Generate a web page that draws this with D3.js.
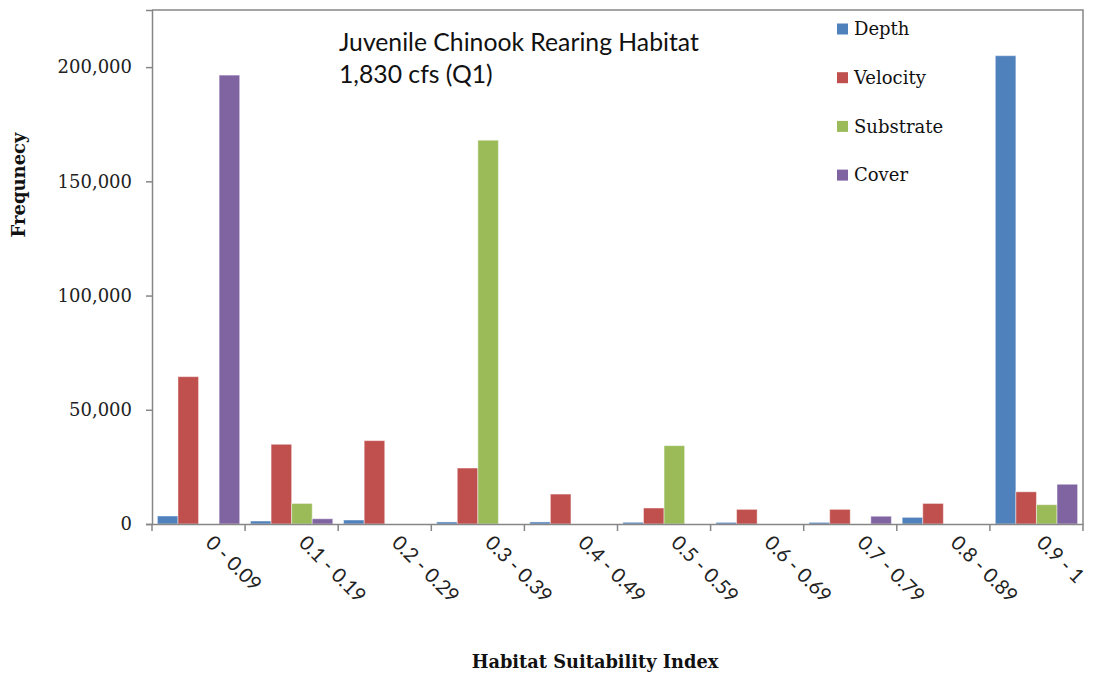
<!DOCTYPE html>
<html><head><meta charset="utf-8">
<script src="https://cdn.jsdelivr.net/npm/d3@7"></script>
<style>body{margin:0;background:#fff;}svg{display:block;}</style>
</head><body>
<svg id="chart" width="1093" height="675"></svg>
<script>
const categories = ["0 - 0.09","0.1 - 0.19","0.2 - 0.29","0.3 - 0.39","0.4 - 0.49","0.5 - 0.59","0.6 - 0.69","0.7 - 0.79","0.8 - 0.89","0.9 - 1"];
const seriesNames = ["Depth","Velocity","Substrate","Cover"];
const depth     = [3500, 1300, 1750, 900, 900, 750, 700, 700, 2900, 205000];
const velocity  = [64500, 34900, 36500, 24500, 13100, 7000, 6400, 6400, 9000, 14100];
const substrate = [0, 9000, 0, 168000, 0, 34300, 0, 0, 0, 8450];
const cover     = [196500, 2300, 0, 0, 0, 0, 0, 3400, 0, 17400];
const yTicks = [0, 50000, 100000, 150000, 200000];
const colors = ["#4F81BD","#C0504D","#9BBB59","#8064A2"];
const titleLines = ["Juvenile Chinook Rearing Habitat","1,830 cfs (Q1)"];

const seriesValues = [depth, velocity, substrate, cover];
const svg = d3.select("#chart");
const W = 1093;
const L = 152, R = 1083, T = 10, B = 524;
const axisColor = "#868686";

const x = d3.scaleBand().domain(categories).range([L, R]).padding(0);
const bw = x.bandwidth();
const gap = bw * 0.058;
const xs = d3.scaleBand().domain(seriesNames).range([gap, bw - gap]).padding(0);
const y = d3.scaleLinear().domain([0, 225000]).range([B, T]);

// bars
seriesNames.forEach((s, si) => {
  const data = categories.map((c, i) => ({c, v: seriesValues[si][i]})).filter(d => d.v > 0);
  svg.append("g").selectAll("rect").data(data).join("rect")
    .attr("x", d => x(d.c) + xs(s))
    .attr("y", d => y(d.v))
    .attr("width", xs.bandwidth())
    .attr("height", d => B - y(d.v))
    .attr("fill", colors[si])
    .attr("stroke", "rgba(255,255,255,0.45)")
    .attr("stroke-width", 1);
});

// plot frame (top & right)
svg.append("path").attr("d", `M${L},${T}H${R}V${B}`).attr("fill","none").attr("stroke", axisColor).attr("stroke-width", 1.5);

// y axis
const yAxis = d3.axisLeft(y).tickValues(yTicks).tickSize(6).tickFormat(d3.format(","));
const gy = svg.append("g").attr("transform", `translate(${L},0)`).call(yAxis);
gy.select(".domain").attr("stroke", axisColor).attr("stroke-width", 1.5);
gy.selectAll(".tick line").attr("stroke", axisColor).attr("stroke-width", 1.5);
gy.selectAll(".tick text").attr("font-family", "DejaVu Serif").attr("font-size", 18).attr("fill", "#222").attr("x", -20);

// x axis
const xAxis = d3.axisBottom(x).tickSize(0).tickFormat("");
const gx = svg.append("g").attr("transform", `translate(0,${B})`).call(xAxis);
gx.select(".domain").attr("stroke", axisColor).attr("stroke-width", 1.5);
const bounds = categories.map(c => x(c)).concat([R]);
svg.append("g").selectAll("line").data(bounds).join("line")
  .attr("x1", d => d).attr("x2", d => d).attr("y1", B).attr("y2", B + 7)
  .attr("stroke", axisColor).attr("stroke-width", 1.5);

// x tick labels rotated
const xl = svg.append("g").selectAll("text").data(categories).join("text")
  .attr("transform", d => `translate(${x(d) + bw/2 + 11},${B + 15}) rotate(45)`)
  .attr("font-family", "Lato").attr("font-size", 19).attr("fill", "#222")
  .attr("text-anchor", "start").attr("dy", "0.35em")
  .text(d => d);
{
  const ref = xl.filter((d,i) => i === 1).node().getComputedTextLength();
  xl.attr("font-size", 19 * 85 / ref);
  // keep every label inside the picture
  xl.each(function(d) {
    const r = this.getBoundingClientRect();
    if (r.right > W - 3) {
      const shift = r.right - (W - 3);
      d3.select(this).attr("transform", `translate(${x(d) + bw/2 + 11 - shift},${B + 15}) rotate(45)`);
    }
  });
}

// title
const tl = svg.append("g").selectAll("text").data(titleLines).join("text")
  .attr("x", 339).attr("y", (d, i) => 51 + i * 32)
  .attr("font-family", "Lato").attr("font-size", 20).attr("fill", "#111")
  .text(d => d);
{
  const ref = tl.filter((d,i) => i === 0).node().getComputedTextLength();
  tl.attr("font-size", 20 * 360 / ref);
}

// legend
const lg = svg.append("g").selectAll("g").data(seriesNames).join("g")
  .attr("transform", (d, i) => `translate(837,${29 + i * 48.7})`);
lg.append("rect").attr("x", 0).attr("y", -5.5).attr("width", 11).attr("height", 11)
  .attr("fill", (d, i) => colors[i]);
lg.append("text").attr("x", 17).attr("dy", "0.35em")
  .attr("font-family", "DejaVu Serif").attr("font-size", 18).attr("fill", "#111")
  .text(d => d);

// axis titles
const yt = svg.append("text").attr("transform", "translate(25,185) rotate(-90)")
  .attr("text-anchor", "middle").attr("font-family", "DejaVu Serif").attr("font-weight", "bold")
  .attr("font-size", 16).attr("fill", "#111").text("Frequnecy");
yt.attr("font-size", 16 * 105 / yt.node().getComputedTextLength());

const xt = svg.append("text").attr("x", 595).attr("y", 668)
  .attr("text-anchor", "middle").attr("font-family", "DejaVu Serif").attr("font-weight", "bold")
  .attr("font-size", 16).attr("fill", "#111").text("Habitat Suitability Index");
xt.attr("font-size", 16 * 247 / xt.node().getComputedTextLength());
</script>
</body></html>
